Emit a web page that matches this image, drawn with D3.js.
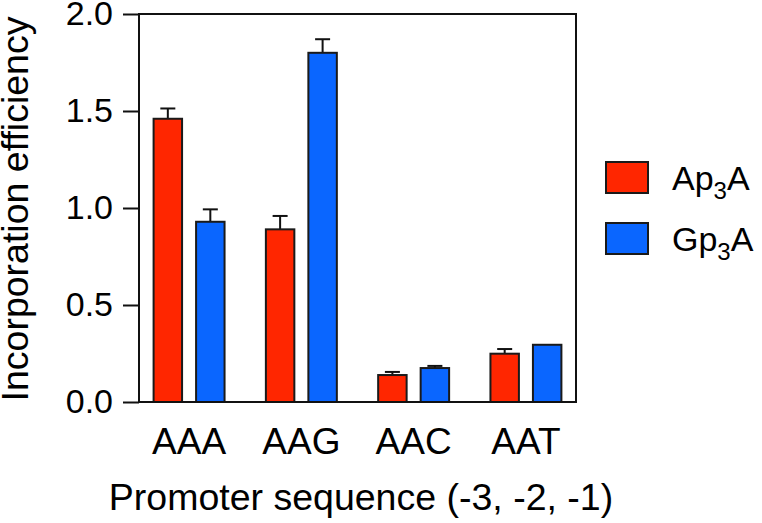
<!DOCTYPE html>
<html>
<head>
<meta charset="utf-8">
<script src="https://cdn.jsdelivr.net/npm/d3@7"></script>
<style>
  html, body { margin: 0; padding: 0; background: #fff; }
  svg { display: block; font-family: "Liberation Sans", Arial, Helvetica, sans-serif; }
</style>
</head>
<body>
<svg id="chart" width="762" height="523"></svg>
<script>
const categories = ["AAA", "AAG", "AAC", "AAT"];
const seriesNames = ["Ap3A", "Gp3A"];
const ap3aValues = [1.46, 0.89, 0.139, 0.249];
const ap3aErrors = [0.053, 0.069, 0.016, 0.024];
const gp3aValues = [0.929, 1.80, 0.175, 0.295];
const gp3aErrors = [0.064, 0.07, 0.011, 0];
const yTicks = [0, 0.5, 1.0, 1.5, 2.0];
const seriesColors = ["#ff2600", "#0a66ff"];

(function () {
const svg = d3.select("#chart");
const mLeft = 139, mRight = 576, mTop = 14, mBottom = 402;

const x0 = d3.scaleBand().domain(categories).range([mLeft, mRight])
  .paddingInner(0.368).paddingOuter(0.13);
const x1 = d3.scaleBand().domain(seriesNames).range([0, x0.bandwidth()])
  .paddingInner(0.33);
const y = d3.scaleLinear().domain([0, 2]).range([mBottom, mTop]);

const data = [];
categories.forEach((c, i) => {
  data.push({cat: c, s: "Ap3A", v: ap3aValues[i], e: ap3aErrors[i], color: seriesColors[0]});
  data.push({cat: c, s: "Gp3A", v: gp3aValues[i], e: gp3aErrors[i], color: seriesColors[1]});
});

// error bars (upper only)
const eb = svg.append("g").attr("stroke", "#111").attr("stroke-width", 2);
data.filter(d => d.e > 0).forEach(d => {
  const cx = x0(d.cat) + x1(d.s) + x1.bandwidth() / 2;
  eb.append("line").attr("x1", cx).attr("x2", cx).attr("y1", y(d.v)).attr("y2", y(d.v + d.e));
  eb.append("line").attr("x1", cx - 7.5).attr("x2", cx + 7.5).attr("y1", y(d.v + d.e)).attr("y2", y(d.v + d.e));
});

// bars
svg.append("g").selectAll("rect").data(data).join("rect")
  .attr("x", d => x0(d.cat) + x1(d.s))
  .attr("y", d => y(d.v))
  .attr("width", x1.bandwidth())
  .attr("height", d => y(0) - y(d.v))
  .attr("fill", d => d.color)
  .attr("stroke", "#1a1a1a")
  .attr("stroke-width", 2);

// frame top and right
svg.append("line").attr("x1", mLeft).attr("x2", mRight).attr("y1", mTop).attr("y2", mTop)
  .attr("stroke", "#111").attr("stroke-width", 2);
svg.append("line").attr("x1", mRight).attr("x2", mRight).attr("y1", mTop - 1).attr("y2", mBottom + 1)
  .attr("stroke", "#111").attr("stroke-width", 2);

// y axis
const yAxis = svg.append("g").attr("transform", `translate(${mLeft},0)`)
  .call(d3.axisLeft(y).tickValues(yTicks).tickFormat(d3.format(".1f")).tickSize(16).tickPadding(10));
yAxis.selectAll("line").attr("stroke", "#111").attr("stroke-width", 2);
yAxis.select(".domain").attr("stroke", "#111").attr("stroke-width", 2).attr("d", `M0,${mTop - 1}V${mBottom + 1}`);
yAxis.selectAll("text").attr("font-size", 34).attr("fill", "#000").attr("font-family", "Liberation Sans, Arial, sans-serif");

// x axis
const xAxis = svg.append("g").attr("transform", `translate(0,${mBottom})`)
  .call(d3.axisBottom(x0).tickSize(0).tickPadding(26));
xAxis.select(".domain").attr("stroke", "#111").attr("stroke-width", 2).attr("d", `M${mLeft - 1},0H${mRight + 1}`);
xAxis.selectAll("text").attr("font-size", 37).attr("fill", "#000").attr("font-family", "Liberation Sans, Arial, sans-serif");

// axis titles
svg.append("text").attr("transform", `translate(28,${(mTop + mBottom) / 2 + 1}) rotate(-90)`)
  .attr("text-anchor", "middle").attr("font-size", 37.5).attr("fill", "#000")
  .text("Incorporation efficiency");
svg.append("text").attr("x", 361).attr("y", 510)
  .attr("text-anchor", "middle").attr("font-size", 37.5).attr("fill", "#000")
  .text("Promoter sequence (-3, -2, -1)");

// legend
const legend = svg.append("g");
seriesNames.forEach((s, i) => {
  const g = legend.append("g").attr("transform", `translate(606,${162 + i * 61})`);
  g.append("rect").attr("width", 42).attr("height", 31)
    .attr("fill", seriesColors[i]).attr("stroke", "#1a1a1a").attr("stroke-width", 2);
  const t = g.append("text").attr("x", 66).attr("y", 28).attr("font-size", 34).attr("fill", "#000");
  t.append("tspan").text(s.slice(0, 2));
  t.append("tspan").attr("font-size", 24).attr("dy", 9).text(s.slice(2, 3));
  t.append("tspan").attr("dy", -9).text(s.slice(3));
});
})();
</script>
</body>
</html>
